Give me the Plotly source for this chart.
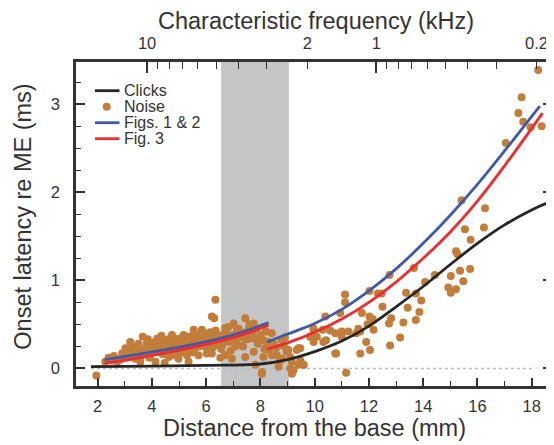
import numpy as np
import plotly.graph_objects as go

# Noise onsets (distance from base in mm, latency in ms)
noise_x = [1.95, 2.28, 2.53, 2.72, 2.90, 3.02, 3.15, 3.27, 3.39, 3.57, 3.66, 3.76, 3.88, 3.94, 4.00,
           4.13, 4.19, 4.31, 4.35, 4.47, 4.49, 4.55, 4.62, 4.74, 4.80, 4.86, 4.98, 5.04, 5.17, 5.22,
           5.29, 5.35, 5.47, 5.54, 5.59, 5.72, 5.84, 5.90, 5.96, 6.02, 6.14, 6.21, 6.27, 6.34, 6.46,
           6.58, 6.70, 6.82, 6.95, 7.07, 7.13, 7.32, 7.44, 7.56, 7.68, 7.44, 7.75, 7.81, 7.93, 8.05,
           8.11, 8.24, 8.42, 8.60, 8.67, 8.85, 8.97, 9.16, 9.40, 9.59,
           3.10, 3.30, 3.45, 3.55, 3.70, 3.80, 3.90, 4.05, 4.10, 4.25, 4.40, 4.45, 4.60, 4.70, 4.75,
           4.90, 4.95, 5.05, 5.10, 5.25, 5.30, 5.40, 5.50, 5.60, 5.65, 5.75, 5.80, 5.95, 6.05, 6.10,
           6.20, 6.30, 6.35, 6.45, 6.55, 6.65, 6.75, 6.85, 6.90, 7.00, 7.10, 7.20, 7.25, 7.40, 7.50,
           7.60, 7.70, 7.85, 7.90, 8.00, 8.10, 8.20, 8.30, 8.50, 8.90, 2.40, 2.60, 2.85, 3.05, 3.60,
           6.30, 6.95, 6.52, 6.21, 7.36, 7.32, 7.62, 7.75, 7.01, 8.30, 8.42, 8.58, 8.79, 8.97, 8.73,
           9.10, 8.06, 9.22, 9.47, 9.96, 10.32, 10.76, 10.76, 8.79, 9.10, 9.03, 9.34, 9.47, 9.16,
           9.40, 9.59, 9.83, 9.96, 9.96, 10.08, 10.30, 10.39, 10.42, 10.57, 10.79, 10.94, 11.00,
           11.00, 11.12, 11.12, 11.16, 11.24, 11.53, 11.61, 11.68, 11.68, 11.74, 11.90, 11.95, 12.02,
           12.02, 12.04, 12.14, 12.17, 12.33, 12.47, 12.50, 12.74, 12.76, 12.78, 12.82, 13.15, 13.27,
           13.37, 13.43, 13.66, 13.73, 13.73, 13.86, 13.93, 14.07, 14.43, 14.93, 15.02, 15.02, 15.21,
           15.21, 15.26, 15.36, 15.42, 15.48, 15.54, 15.73, 15.75, 16.24, 16.28, 17.05, 17.51, 17.63,
           17.69, 17.96, 18.24, 18.37,
           3.20, 3.50, 3.85, 4.15, 4.30, 4.55, 4.85, 5.00, 5.15, 5.35, 5.45, 5.70, 5.85, 6.00, 6.25,
           6.40, 6.60, 6.80, 7.05, 7.30, 7.55, 7.80, 8.15, 4.20, 4.65, 5.20, 5.55, 6.15, 6.70, 7.15]
noise_y = [-0.08, 0.075, 0.09, 0.075, 0.17, 0.23, 0.13, 0.20, 0.11, 0.075, 0.36, 0.17, 0.23, 0.15, 0.26,
           0.075, 0.19, 0.28, 0.37, 0.06, 0.30, 0.23, 0.13, 0.38, 0.26, 0.19, 0.11, 0.30, 0.38, 0.25,
           0.15, 0.075, 0.32, 0.44, 0.23, 0.15, 0.44, 0.34, 0.25, 0.17, 0.30, 0.59, 0.40, 0.78, 0.26,
           0.38, 0.15, 0.47, 0.36, 0.25, 0.45, 0.26, 0.57, 0.42, 0.49, 0.13, 0.19, 0.04, 0.34, -0.06,
           0.13, 0.25, 0.40, 0.15, 0.02, 0.26, 0.19, 0.075, 0.23, 0.04,
           0.18, 0.25, 0.20, 0.15, 0.22, 0.28, 0.12, 0.20, 0.30, 0.22, 0.16, 0.25, 0.33, 0.22, 0.15,
           0.30, 0.22, 0.18, 0.35, 0.30, 0.20, 0.26, 0.18, 0.30, 0.38, 0.25, 0.32, 0.40, 0.30, 0.22,
           0.35, 0.28, 0.43, 0.33, 0.22, 0.30, 0.40, 0.30, 0.20, 0.38, 0.32, 0.45, 0.36, 0.40, 0.33,
           0.50, 0.40, 0.45, 0.28, 0.38, 0.32, 0.42, 0.30, 0.28, 0.35, 0.12, 0.14, 0.10, 0.12, 0.14,
           0.57, 0.11, 0.12, 0.17, 0.25, 0.40, 0.34, 0.51, 0.51, 0.21, 0.15, 0.23, 0.32, 0.21, 0.09,
           0.13, -0.04, -0.02, 0.09, 0.44, 0.30, 0.40, 0.17, 0.11, 0.0, 0.21, 0.21, 0.23, -0.06,
           0.04, 0.04, 0.36, 0.45, 0.30, 0.36, 0.44, 0.59, 0.32, 0.43, 0.17, 0.63, 0.42,
           0.36, 0.84, 0.75, -0.05, 0.42, 0.40, 0.45, 0.42, 0.17, 0.63, 0.30, 0.50, 0.59,
           0.88, 0.21, 0.56, 0.44, 0.85, 0.85, 0.70, 0.51, 1.06, 0.26, 0.57, 0.35, 0.52,
           0.86, 0.69, 1.14, 0.85, 0.55, 0.64, 0.77, 0.98, 1.06, 0.92, 1.05, 0.86, 1.33,
           0.90, 1.30, 1.11, 1.91, 0.99, 1.58, 1.13, 1.46, 1.60, 1.82, 2.56, 2.90, 3.08,
           2.80, 2.74, 3.39, 2.75,
           0.30, 0.28, 0.33, 0.27, 0.18, 0.19, 0.34, 0.27, 0.21, 0.36, 0.20, 0.35, 0.28, 0.36, 0.24,
           0.37, 0.27, 0.35, 0.30, 0.36, 0.44, 0.34, 0.22, 0.34, 0.29, 0.33, 0.39, 0.41, 0.46, 0.40]

# Click onset fit
clicks_x = [1.75, 4.0, 6.0, 8.0, 9.0, 10.0, 11.0, 12.0, 13.0, 14.0, 15.0, 16.0, 17.0, 18.0, 18.75]
clicks_y = [0.02, 0.025, 0.035, 0.05, 0.10, 0.19, 0.31, 0.48, 0.70, 0.93, 1.18, 1.42, 1.63, 1.80, 1.90]

# Figs. 1 & 2 model (two segments, None = gap)
figs12_x = [2.25, 3.5, 5.5, 7.0, 8.3, None, 8.25, 9.0, 10.0, 11.0, 12.0, 13.0, 14.0, 15.0, 16.0, 17.0, 18.3]
figs12_y = [0.10, 0.16, 0.27, 0.38, 0.52, None, 0.30, 0.39, 0.51, 0.67, 0.88, 1.13, 1.42, 1.74, 2.09, 2.47, 2.98]

# Fig. 3 model
fig3_x = [2.25, 3.5, 5.5, 7.0, 8.3, None, 8.25, 9.0, 10.0, 11.0, 12.0, 13.0, 14.0, 15.0, 16.0, 17.0, 18.4]
fig3_y = [0.06, 0.12, 0.24, 0.35, 0.49, None, 0.22, 0.29, 0.41, 0.56, 0.75, 0.98, 1.25, 1.55, 1.90, 2.30, 2.90]

# characteristic frequency axis (kHz)
cf_major = [10, 1]
cf_labels = [10, 2, 1, 0.2]
cf_minor = [9, 8, 7, 6, 5, 4, 3, 0.9, 0.8, 0.7, 0.6, 0.5, 0.4, 0.3]

legend_names = ["Clicks", "Noise", "Figs. 1 & 2", "Fig. 3"]
legend_colors = ["#262626", "#c27d3a", "#3e5aa8", "#ef2b2d"]


def cf_to_mm(f):
    return 3.82 + 8.45 * (1 - np.log10(np.array(f, dtype=float)))


ink = "#333333"
font = "Liberation Sans, Arial, sans-serif"
xr = [1.2, 18.75]
# the page body adds 8px around the figure, so the figure is 8px smaller
W, H = 546, 437
ml, mr, mt, mb = 68, 2, 54, 59
plot_w, plot_h = W - ml - mr, H - mt - mb


def px(x):  # screenshot px -> paper x
    return (x - 8 - ml) / plot_w


def py(y):  # screenshot px -> paper y
    return (H - mb - (y - 8)) / plot_h


fig = go.Figure()

fig.add_trace(go.Scatter(x=[1.75, 18.0], y=[0, 0], mode="lines",
                         line=dict(color="#bbbbbb", width=1.5, dash="dot")))
fig.add_trace(go.Scatter(x=noise_x, y=noise_y, mode="markers", name="Noise",
                         marker=dict(color=legend_colors[1], size=8)))
fig.add_trace(go.Scatter(x=clicks_x, y=clicks_y, mode="lines", name="Clicks",
                         line=dict(color=legend_colors[0], width=2.8, shape="spline")))
fig.add_trace(go.Scatter(x=figs12_x, y=figs12_y, mode="lines", name="Figs. 1 & 2",
                         line=dict(color=legend_colors[2], width=2.8, shape="spline")))
fig.add_trace(go.Scatter(x=fig3_x, y=fig3_y, mode="lines", name="Fig. 3",
                         line=dict(color=legend_colors[3], width=2.8, shape="spline")))

fig.add_shape(type="rect", xref="x", yref="paper", x0=6.55, x1=9.05, y0=0, y1=1,
              fillcolor="#c4c5c7", line_width=0, layer="below")

# hand-built legend (tighter spacing than plotly's own)
for i, (name, col) in enumerate(zip(legend_names, legend_colors)):
    yc = py(90.7 + 16 * i)
    if name == "Noise":
        fig.add_shape(type="circle", xref="paper", yref="paper",
                      x0=px(106.7 - 4), x1=px(106.7 + 4),
                      y0=yc - 4 / plot_h, y1=yc + 4 / plot_h,
                      fillcolor=col, line_width=0)
    else:
        fig.add_shape(type="line", xref="paper", yref="paper",
                      x0=px(95), x1=px(119.5), y0=yc, y1=yc,
                      line=dict(color=col, width=2.8))
    fig.add_annotation(x=px(122), y=yc, xref="paper", yref="paper", text=name,
                       showarrow=False, xanchor="left", yanchor="middle",
                       font=dict(size=16, color=ink))

# axis titles
fig.add_annotation(x=px(316), y=py(21), xref="paper", yref="paper",
                   text="Characteristic frequency (kHz)", showarrow=False,
                   xanchor="center", yanchor="middle", font=dict(size=23.5, color=ink))
fig.add_annotation(x=px(314), y=py(428), xref="paper", yref="paper",
                   text="Distance from the base (mm)", showarrow=False,
                   xanchor="center", yanchor="middle", font=dict(size=23.5, color=ink))
fig.add_annotation(x=px(23), y=py(216.7), xref="paper", yref="paper",
                   text="Onset latency re ME (ms)", showarrow=False, textangle=-90,
                   xanchor="center", yanchor="middle", font=dict(size=23.5, color=ink))

fig.update_layout(
    width=W, height=H,
    margin=dict(l=ml, r=mr, t=mt, b=mb, autoexpand=False),
    plot_bgcolor="white", paper_bgcolor="white",
    showlegend=False,
    font=dict(family=font, color=ink, size=16.5),
    xaxis=dict(range=xr, showline=True, linewidth=2.5, linecolor=ink, mirror=True,
               ticks="inside", ticklen=8, tickwidth=1.5, tickcolor=ink, automargin=False,
               tickvals=list(range(2, 19, 2)), showgrid=False, zeroline=False, ticklabelstandoff=3,
               minor=dict(tickvals=list(range(3, 19, 2)), ticks="inside", ticklen=5, tickcolor=ink, tickwidth=1.2)),
    yaxis=dict(range=[-0.2, 3.48], showline=True, linewidth=2.5, linecolor=ink, mirror="ticks",
               ticks="inside", ticklen=9, tickwidth=1.5, tickcolor=ink, automargin=False,
               tickvals=[0, 1, 2, 3], showgrid=False, zeroline=False, ticklabelstandoff=10,
               minor=dict(dtick=0.25, ticks="inside", ticklen=5, tickcolor=ink, tickwidth=1.2)),
    xaxis2=dict(range=xr, overlaying="x", side="top", anchor="y", showline=False,
                ticks="inside", ticklen=7, tickwidth=1.2, tickcolor=ink, automargin=False,
                tickvals=list(cf_to_mm(cf_labels)), ticktext=[str(v) for v in cf_labels],
                ticklabelstandoff=9,
                minor=dict(tickvals=list(cf_to_mm(cf_minor)), ticks="inside", ticklen=7,
                           tickcolor=ink, tickwidth=1.2),
                showgrid=False, zeroline=False),
    xaxis3=dict(range=xr, overlaying="x", side="top", anchor="y", showline=False,
                ticks="inside", ticklen=11, tickwidth=1.5, tickcolor=ink, automargin=False,
                tickvals=list(cf_to_mm(cf_major)), showticklabels=False,
                showgrid=False, zeroline=False),
)

# empty traces so the top axes are drawn
fig.add_trace(go.Scatter(x=[None], y=[None], xaxis="x2"))
fig.add_trace(go.Scatter(x=[None], y=[None], xaxis="x3"))

fig.write_html("out.html")
